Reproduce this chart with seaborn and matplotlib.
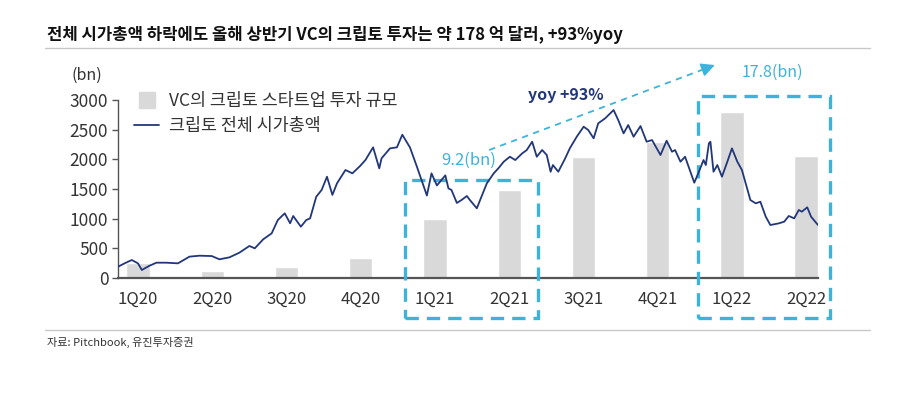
import matplotlib
matplotlib.use("Agg")
import matplotlib.pyplot as plt
import seaborn as sns
import pandas as pd
import numpy as np
from matplotlib.patches import Rectangle
from matplotlib.lines import Line2D

# ---------------- data ----------------
quarters = ["1Q20", "2Q20", "3Q20", "4Q20", "1Q21", "2Q21", "3Q21", "4Q21", "1Q22", "2Q22"]
vc_invest = [250, 120, 190, 335, 990, 1485, 2040, 2300, 2790, 2055]

mcap_dates = [
    "2020-01-01", "2020-01-10", "2020-01-19", "2020-01-27", "2020-02-01", "2020-02-11",
    "2020-02-20", "2020-03-04", "2020-03-19", "2020-04-03", "2020-04-16", "2020-05-02",
    "2020-05-12", "2020-05-25", "2020-06-07", "2020-06-20", "2020-06-27", "2020-07-08",
    "2020-07-19", "2020-07-27", "2020-08-05", "2020-08-12", "2020-08-16", "2020-08-26",
    "2020-09-02", "2020-09-07", "2020-09-15", "2020-09-22", "2020-09-29", "2020-10-06",
    "2020-10-12", "2020-10-23", "2020-11-01", "2020-11-11", "2020-11-18", "2020-11-28",
    "2020-12-06", "2020-12-09", "2020-12-20", "2020-12-29", "2021-01-05", "2021-01-15",
    "2021-01-24", "2021-02-06", "2021-02-12", "2021-02-19", "2021-03-02", "2021-03-06",
    "2021-03-10", "2021-03-17", "2021-03-23", "2021-03-30", "2021-04-03", "2021-04-12",
    "2021-04-18", "2021-04-25", "2021-05-04", "2021-05-10", "2021-05-17", "2021-05-25",
    "2021-06-01", "2021-06-10", "2021-06-16", "2021-06-23", "2021-06-29", "2021-07-06",
    "2021-07-12", "2021-07-17", "2021-07-20", "2021-07-27", "2021-08-05", "2021-08-11",
    "2021-08-20", "2021-08-29", "2021-09-04", "2021-09-11", "2021-09-17", "2021-09-26",
    "2021-10-07", "2021-10-13", "2021-10-20", "2021-10-26", "2021-11-02", "2021-11-11",
    "2021-11-19", "2021-11-26", "2021-12-07", "2021-12-15", "2021-12-22", "2021-12-26",
    "2022-01-02", "2022-01-08", "2022-01-20", "2022-01-26", "2022-02-01", "2022-02-04",
    "2022-02-08", "2022-02-10", "2022-02-14", "2022-02-19", "2022-02-25", "2022-03-04",
    "2022-03-10", "2022-03-17", "2022-03-23", "2022-04-03", "2022-04-10", "2022-04-16",
    "2022-04-23", "2022-04-29", "2022-05-10", "2022-05-17", "2022-05-23", "2022-05-30",
    "2022-06-05", "2022-06-09", "2022-06-16", "2022-06-21", "2022-06-30",
]
mcap_values = [
    190, 250, 303, 247, 135, 207,
    258, 258, 247, 360, 376, 370,
    315, 348, 427, 540, 500, 652,
    753, 977, 1090, 922, 1045, 865,
    977, 1005, 1370, 1483, 1707, 1400,
    1595, 1820, 1764, 1887, 1988, 2202,
    1848, 2017, 2185, 2202, 2415, 2200,
    1876, 1390, 1764, 1560, 1730, 1511,
    1483, 1265, 1314, 1382, 1314, 1174,
    1370, 1595, 1764, 1848, 1960, 2044,
    1988, 2100, 2157, 2297, 2044, 2157,
    2073, 1791, 1904, 1791, 2017, 2185,
    2381, 2550, 2494, 2354, 2607, 2691,
    2831, 2663, 2438, 2578, 2381, 2561,
    2297, 2325, 2073, 2314, 2128, 2157,
    1960, 2044, 1606, 1791, 1988, 1904,
    2269, 2297, 1791, 1904, 1707, 1960,
    2185, 1960, 1820, 1314, 1258, 1286,
    1033, 893, 921, 949, 1045, 1005,
    1146, 1118, 1191, 1033, 893,
]
y_ticks = [0, 500, 1000, 1500, 2000, 2500, 3000]

title_text = "전체 시가총액 하락에도 올해 상반기 VC의 크립토 투자는 약 178 억 달러, +93%yoy"
legend_bar = "VC의 크립토 스타트업 투자 규모"
legend_line = "크립토 전체 시가총액"
source_text = "자료: Pitchbook, 유진투자증권"

# ---------------- style ----------------
sns.set_theme(style="white")
plt.rcParams["font.family"] = ["Noto Sans CJK KR", "DejaVu Sans"]

BAR_C = "#d9d9d9"
LINE_C = "#22377a"
CYAN = "#3db3dc"
TXT = "#333333"

fig = plt.figure(figsize=(9.16, 3.97), dpi=100)
ax = fig.add_axes([118 / 916, 1 - 278 / 397, 700 / 916, 178 / 397])

bar_df = pd.DataFrame({"quarter": quarters, "vc": vc_invest})
sns.barplot(data=bar_df, x="quarter", y="vc", color=BAR_C, width=0.315,
            saturation=1, ax=ax, zorder=1)
ax.set_xlim(-0.27, 9.16)
ax.set_ylim(0, 3000)
ax.set_yticks(y_ticks)
ax.set_xlabel("")
ax.set_ylabel("")
for s in ["top", "right"]:
    ax.spines[s].set_visible(False)
ax.spines["left"].set_color("#555555")
ax.spines["bottom"].set_color("#555555")
ax.spines["bottom"].set_linewidth(1.6)
ax.spines["left"].set_linewidth(1.0)
ax.tick_params(axis="y", length=4, width=1, color="#555555", pad=3,
               labelsize=12.5, labelcolor=TXT, left=True)
ax.tick_params(axis="x", length=0, pad=9, labelsize=12, labelcolor=TXT)

# line on twin x axis (dates)
ax2 = ax.twiny()
line_df = pd.DataFrame({"date": pd.to_datetime(mcap_dates), "mcap": mcap_values})
sns.lineplot(data=line_df, x="date", y="mcap", color=LINE_C, linewidth=1.3, ax=ax2)
ax2.set_xlim(pd.Timestamp("2020-01-01"), pd.Timestamp("2022-06-30"))
ax2.set_ylim(0, 3000)
ax2.set_xticks([])
ax2.set_xlabel("")
ax2.set_ylabel("")
for s in ax2.spines.values():
    s.set_visible(False)

# legend
handles = [
    Line2D([0], [0], marker="s", linestyle="none", markersize=11,
           markerfacecolor=BAR_C, markeredgecolor=BAR_C),
    Line2D([0], [0], color=LINE_C, linewidth=1.3),
]
leg = ax2.legend(handles, [legend_bar, legend_line], loc="upper left",
                 bbox_to_anchor=(0.023, 1.045), frameon=False, fontsize=12.5,
                 handlelength=1.45, handletextpad=0.57, labelspacing=0.42,
                 borderaxespad=0, borderpad=0)
for t in leg.get_texts():
    t.set_color(TXT)

# dashed highlight boxes (data coords on bar axis)
dash = (0, (4, 2.4))
for (x0, x1, y0, y1) in [(3.595, 5.388, -674, 1651), (7.55, 9.32, -674, 3067)]:
    r = Rectangle((x0, y0), x1 - x0, y1 - y0, fill=False, edgecolor=CYAN,
                  linewidth=2.4, linestyle=dash, clip_on=False, zorder=5,
                  transform=ax.transData)
    ax.add_patch(r)

# dashed arrow
a0 = np.array([4.73, 2157.0])
a1 = np.array([7.77, 3589.0])
head0 = a0 + 0.94 * (a1 - a0)
ax.plot([a0[0], head0[0]], [a0[1], head0[1]], color=CYAN, linewidth=1.3,
        linestyle=(0, (3.5, 3)), clip_on=False, zorder=6, dash_capstyle="butt")
ax.annotate("", xy=tuple(a1), xytext=tuple(head0), xycoords="data",
            annotation_clip=False,
            arrowprops=dict(arrowstyle="-|>,head_length=0.7,head_width=0.35",
                            color=CYAN, linewidth=1.0, shrinkA=0, shrinkB=0))

ax.text(4.45, 1990, "9.2(bn)", color=CYAN, fontsize=12, ha="center", va="center",
        clip_on=False, zorder=6)
ax.text(8.55, 3470, "17.8(bn)", color=CYAN, fontsize=11.5, ha="center", va="center",
        clip_on=False, zorder=6)
ax.text(5.76, 3085, "yoy +93%", color=LINE_C, fontsize=11.5, fontweight="bold",
        ha="center", va="center", clip_on=False, zorder=6)

# (bn) label
fig.text(87 / 916, 1 - 75 / 397, "(bn)", fontsize=11.5, color=TXT, ha="center", va="center")

# title and separators
fig.text(47 / 916, 1 - 35 / 397, title_text, fontsize=12, fontweight="bold",
         color="#111111", ha="left", va="center")
fig.add_artist(Line2D([45 / 916, 870 / 916], [1 - 48 / 397, 1 - 48 / 397],
                      color="#c8c8c8", linewidth=1.0))
fig.add_artist(Line2D([45 / 916, 870 / 916], [1 - 330 / 397, 1 - 330 / 397],
                      color="#c8c8c8", linewidth=1.0))
fig.text(47 / 916, 1 - 342 / 397, source_text, fontsize=8, color="#333333",
         ha="left", va="center")

fig.savefig("out.png", dpi=100, facecolor="white")
